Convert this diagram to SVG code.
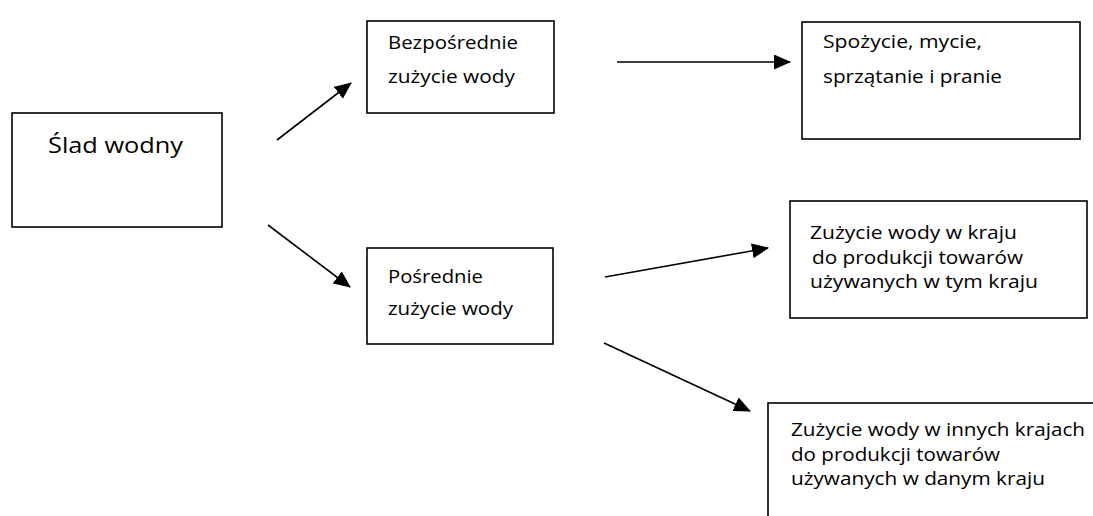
<svg xmlns="http://www.w3.org/2000/svg" width="1093" height="516" viewBox="0 0 1093 516">
<style>
.box{fill:#fff;stroke:#000;stroke-width:1.6}
.t{font-family:"Open Sans","Noto Sans","DejaVu Sans",sans-serif;font-size:18px;fill:#000}
.big{font-size:22px}
.c{stroke:#000;stroke-width:1.6;fill:none;marker-end:url(#ah)}
</style>
<defs>
<marker id="ah" markerUnits="userSpaceOnUse" markerWidth="18" markerHeight="16" refX="16" refY="7.5" orient="auto">
<path d="M0,0 L17,7.5 L0,15 z" fill="#000"/>
</marker>
</defs>
<rect width="1093" height="516" fill="#fff"/>
<g id="slad">
<rect class="box" x="12" y="113" width="210" height="114"/>
<text class="t big" x="48" y="153" textLength="135" lengthAdjust="spacingAndGlyphs">Ślad wodny</text>
</g>
<g id="bezposrednie">
<rect class="box" x="367" y="21" width="187" height="92"/>
<text class="t" x="388" y="49" textLength="130" lengthAdjust="spacingAndGlyphs">Bezpośrednie</text>
<text class="t" x="388" y="83" textLength="127" lengthAdjust="spacingAndGlyphs">zużycie wody</text>
</g>
<g id="spozycie">
<rect class="box" x="802" y="22" width="278" height="117"/>
<text class="t" x="823" y="48" textLength="159" lengthAdjust="spacingAndGlyphs">Spożycie, mycie,</text>
<text class="t" x="823" y="83" textLength="179" lengthAdjust="spacingAndGlyphs">sprzątanie i pranie</text>
</g>
<g id="posrednie">
<rect class="box" x="367" y="248" width="186" height="96"/>
<text class="t" x="388" y="283" textLength="95" lengthAdjust="spacingAndGlyphs">Pośrednie</text>
<text class="t" x="388" y="315" textLength="125" lengthAdjust="spacingAndGlyphs">zużycie wody</text>
</g>
<g id="krajowe">
<rect class="box" x="790" y="201" width="297" height="117"/>
<text class="t" x="810" y="239" textLength="207" lengthAdjust="spacingAndGlyphs">Zużycie wody w kraju</text>
<text class="t" x="812" y="264" textLength="211" lengthAdjust="spacingAndGlyphs">do produkcji towarów</text>
<text class="t" x="810" y="288" textLength="228" lengthAdjust="spacingAndGlyphs">używanych w tym kraju</text>
</g>
<g id="zagraniczne">
<rect class="box" x="768" y="403" width="340" height="140"/>
<text class="t" x="791" y="436" textLength="294" lengthAdjust="spacingAndGlyphs">Zużycie wody w innych krajach</text>
<text class="t" x="791" y="461" textLength="209" lengthAdjust="spacingAndGlyphs">do produkcji towarów</text>
<text class="t" x="791" y="485" textLength="254" lengthAdjust="spacingAndGlyphs">używanych w danym kraju</text>
</g>
<g id="connectors">
<line class="c" x1="277" y1="140" x2="351" y2="83"/>
<line class="c" x1="268" y1="225" x2="350" y2="287"/>
<line class="c" x1="617" y1="62" x2="790" y2="62"/>
<line class="c" x1="605" y1="277" x2="768" y2="248"/>
<line class="c" x1="604" y1="343" x2="750" y2="411"/>
</g>
</svg>
